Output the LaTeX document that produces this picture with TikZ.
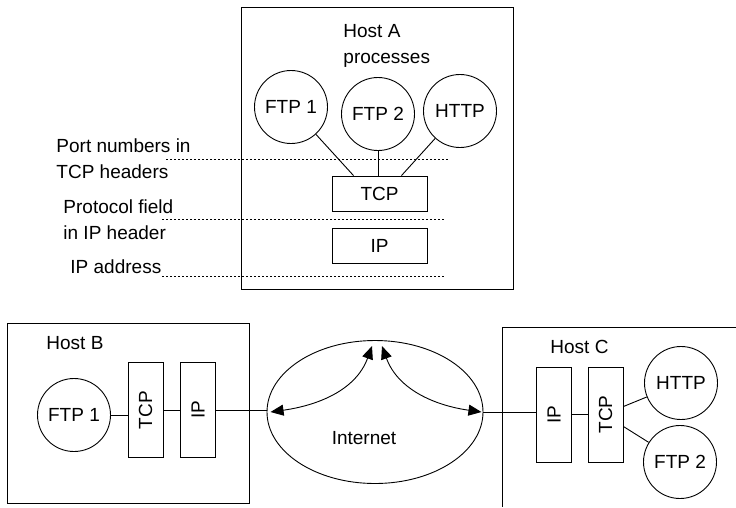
\documentclass[tikz,border=0pt]{standalone}
\usepackage{fontspec}
\usepackage{graphicx}
\setmainfont{Liberation Sans}
\usetikzlibrary{shapes.geometric,arrows.meta}

\begin{document}
\begin{tikzpicture}[x=1pt, y=-1pt, line width=0.9pt,
    every node/.style={font=\fontsize{19}{26}\selectfont},
    proc/.style={draw, circle, minimum size=73pt, inner sep=0pt},
    layer/.style={draw, rectangle, minimum width=95pt, minimum height=35pt, inner sep=0pt},
    vlayer/.style={draw, rectangle, minimum width=35pt, minimum height=95pt, inner sep=0pt},
    guide/.style={line width=0.6pt, dash pattern=on 2.2pt off 1.8pt},
    link/.style={{Triangle[length=13pt,width=11pt]}-{Triangle[length=13pt,width=11pt]}}]
        \useasboundingbox (0,0) rectangle (736,507);

        % Host A
        \draw (241,7) rectangle (513,289);
        \node[anchor=base west, align=left, inner sep=0pt] (hosta) at (343,63) {Host A\\processes};
        \node[proc] (ftp1a) at (291,107) {FTP 1};
        \node[proc] (ftp2a) at (378,114) {FTP 2};
        \node[proc] (httpa) at (460,111) {HTTP};
        \node[layer] (tcpa) at (379.5,193.5) {TCP};
        \node[layer] (ipa) at (379.5,245.5) {IP};
        \draw (ftp1a) -- ([xshift=-26pt]tcpa.north);
        \draw (ftp2a.south) -- (ftp2a.south |- tcpa.north);
        \draw (httpa) -- ([xshift=22pt]tcpa.north);

        % Header fields
        \node[anchor=base west, align=left, inner sep=0pt] (ports) at (56,178) {Port numbers in\\TCP headers};
        \node[anchor=base west, align=left, inner sep=0pt] (proto) at (63,239) {Protocol field\\in IP header};
        \node[anchor=base west, inner sep=0pt] (addr) at (70,273) {IP address};
        \draw[guide] (166,159) -- (449,159);
        \draw[guide] (162,219) -- (445,219);
        \draw[guide] (162,276) -- (445,276);

        % Host B
        \draw (7,323) rectangle (249,503);
        \node[anchor=base west, inner sep=0pt] (hostb) at (46,349) {Host B};
        \node[proc] (ftpb) at (74,415) {FTP 1};
        \node[vlayer] (tcpb) at (145.5,410) {\rotatebox{90}{TCP}};
        \node[vlayer] (ipb) at (198,410) {\rotatebox{90}{IP}};
        \draw (ftpb.east) -- (ftpb.east -| tcpb.west);
        \draw (tcpb) -- (ipb);

        % Internet
        \node[draw, ellipse, minimum width=216pt, minimum height=143pt, inner sep=0pt] (net) at (375,412) {};
        \node (inet) at (364,438) {Internet};
        \draw (ipb.east) -- (ipb.east -| net.west);
        \draw[link] ([xshift=4pt]net.west) to[out=8, in=-110] ([xshift=-3pt,yshift=-6pt]net.north);
        \draw[link] ([xshift=7pt,yshift=-6pt]net.north) to[out=-70, in=172] ([xshift=-2pt]net.east);

        % Host C
        \draw (736,327) -| (502,507);
        \node[anchor=base west, inner sep=0pt] (hostc) at (550,353) {Host C};
        \node[vlayer] (ipc) at (554,414.5) {\rotatebox{90}{IP}};
        \node[vlayer] (tcpc) at (605.5,414.5) {\rotatebox{90}{TCP}};
        \node[proc] (httpc) at (681,383) {HTTP};
        \node[proc] (ftpc) at (680,462) {FTP 2};
        \draw (net.east) -- (net.east -| ipc.west);
        \draw (ipc) -- (tcpc);
        \draw ([yshift=8pt]tcpc.east) -- (httpc);
        \draw ([yshift=-12pt]tcpc.east) -- (ftpc);
\end{tikzpicture}
\end{document}
